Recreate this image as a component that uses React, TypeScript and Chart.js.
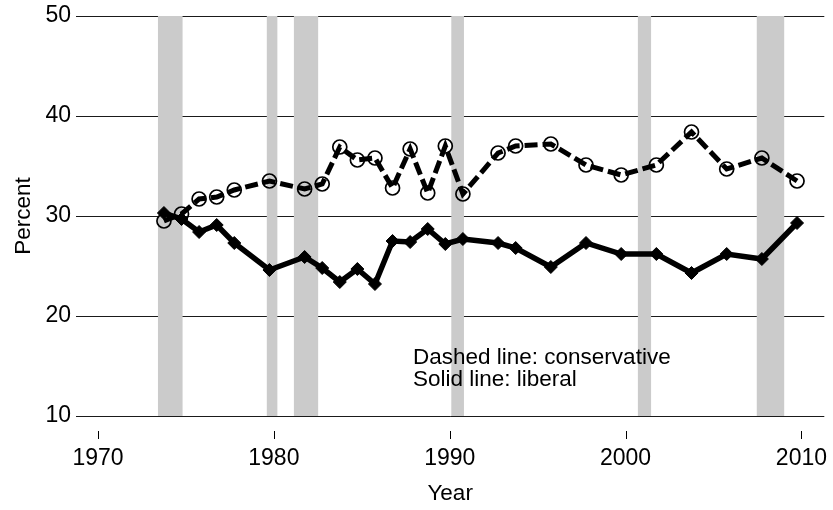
import React, { useEffect, useRef } from "react";
import { Chart, registerables } from "chart.js";

Chart.register(...registerables);

// Survey points as placed on the year axis
const yearPositions = [
  1973.75, 1974.75, 1975.75, 1976.75, 1977.75, 1979.75, 1981.75, 1982.75, 1983.75,
  1984.75, 1985.75, 1986.75, 1987.75, 1988.75, 1989.75, 1990.75, 1992.75, 1993.75,
  1995.75, 1997.75, 1999.75, 2001.75, 2003.75, 2005.75, 2007.75, 2009.75,
];
const conservative = [
  29.5, 30.2, 31.7, 31.9, 32.6, 33.5, 32.7, 33.2, 36.9, 35.6, 35.8, 32.8, 36.7,
  32.3, 37.0, 32.2, 36.3, 37.0, 37.2, 35.1, 34.1, 35.1, 38.4, 34.7, 35.8, 33.5,
];
const liberal = [
  30.3, 29.7, 28.4, 29.1, 27.3, 24.6, 25.9, 24.8, 23.4, 24.7, 23.2, 27.5, 27.4,
  28.7, 27.2, 27.7, 27.3, 26.8, 24.9, 27.3, 26.2, 26.2, 24.3, 26.2, 25.7, 29.3,
];
// Recession bands [start, end] in axis years
const recessionStarts = [1973.41, 1979.6, 1981.14, 1990.09, 2000.7, 2007.46];
const recessionEnds = [1974.81, 1980.2, 1982.52, 1990.81, 2001.45, 2009.02];

const xTicks = [1970, 1980, 1990, 2000, 2010];
const yTicks = [10, 20, 30, 40, 50];
const noteLines = ["Dashed line: conservative", "Solid line: liberal"];

const FONT = "'Liberation Sans', Arial, Helvetica, sans-serif";

const bandsPlugin = {
  id: "bands",
  beforeDatasetsDraw(chart: any) {
    const { ctx, chartArea, scales } = chart;
    ctx.save();
    ctx.fillStyle = "#cbcbcb";
    for (let i = 0; i < recessionStarts.length; i++) {
      const x0 = scales.x.getPixelForValue(recessionStarts[i]);
      const x1 = scales.x.getPixelForValue(recessionEnds[i]);
      ctx.fillRect(x0, chartArea.top, x1 - x0, chartArea.bottom - chartArea.top);
    }
    ctx.restore();
  },
  afterDraw(chart: any) {
    const { ctx, chartArea, scales } = chart;
    ctx.save();
    // x tick marks, detached from the plot region
    ctx.strokeStyle = "#000";
    ctx.lineWidth = 1;
    for (const t of xTicks) {
      const x = Math.round(scales.x.getPixelForValue(t)) + 0.5;
      ctx.beginPath();
      ctx.moveTo(x, chartArea.bottom + 15);
      ctx.lineTo(x, chartArea.bottom + 23);
      ctx.stroke();
    }
    // note text
    ctx.fillStyle = "#000";
    ctx.font = `22.5px ${FONT}`;
    ctx.textAlign = "left";
    ctx.textBaseline = "alphabetic";
    ctx.fillText(noteLines[0], 413, 363.5);
    ctx.fillText(noteLines[1], 413, 386);
    ctx.restore();
  },
};

export default function App() {
  const ref = useRef<HTMLCanvasElement>(null);

  useEffect(() => {
    document.body.style.margin = "0";
    const canvas = ref.current!;
    const chart = new Chart(canvas, {
      type: "line",
      data: {
        datasets: [
          {
            label: "liberal",
            data: yearPositions.map((x, i) => ({ x, y: liberal[i] })),
            borderColor: "#000",
            borderWidth: 5.5,
            pointStyle: "rectRot",
            pointRadius: 6.5,
            pointBackgroundColor: "#000",
            pointBorderColor: "#000",
            pointBorderWidth: 1,
            tension: 0,
            order: 0,
          },
          {
            label: "conservative",
            data: yearPositions.map((x, i) => ({ x, y: conservative[i] })),
            borderColor: "#000",
            borderWidth: 5,
            borderDash: [13, 5],
            borderCapStyle: "butt",
            pointStyle: "circle",
            pointRadius: 7,
            pointBackgroundColor: "rgba(0,0,0,0)",
            pointBorderColor: "#000",
            pointBorderWidth: 1.7,
            tension: 0,
            order: 1,
          },
        ],
      },
      options: {
        animation: false,
        responsive: false,
        maintainAspectRatio: false,
        layout: { padding: { top: 16, right: 8, left: 0, bottom: 0 } },
        plugins: {
          legend: { display: false },
          tooltip: { enabled: false },
        },
        scales: {
          x: {
            type: "linear",
            min: 1968.75,
            max: 2011.3,
            afterBuildTicks: (scale: any) => {
              scale.ticks = xTicks.map((v) => ({ value: v }));
            },
            afterFit: (scale: any) => {
              scale.height = 94;
              scale.paddingLeft = 0;
              scale.paddingRight = 0;
            },
            grid: { display: false, drawTicks: false },
            border: { display: false },
            ticks: {
              color: "#000",
              font: { family: FONT, size: 23 },
              padding: 29,
              maxRotation: 0,
              autoSkip: false,
              callback: (v: any) => String(v),
            },
            title: {
              display: true,
              text: "Year",
              color: "#000",
              font: { family: FONT, size: 22.5 },
              padding: { top: 0, bottom: 2.5 },
            },
          },
          y: {
            min: 10,
            max: 50,
            afterBuildTicks: (scale: any) => {
              scale.ticks = yTicks.map((v) => ({ value: v }));
            },
            afterFit: (scale: any) => {
              scale.width = 76;
              scale.paddingTop = 0;
              scale.paddingBottom = 0;
            },
            grid: { color: "#1a1a1a", lineWidth: 1, drawTicks: false },
            border: { display: false },
            ticks: {
              color: "#000",
              font: { family: FONT, size: 23 },
              padding: 5,
              callback: (v: any) => String(v),
            },
            title: {
              display: true,
              text: "Percent",
              color: "#000",
              font: { family: FONT, size: 22.5 },
              padding: { top: 10, bottom: 0 },
            },
          },
        },
      },
      plugins: [bandsPlugin],
    });
    return () => chart.destroy();
  }, []);

  return (
    <div style={{ width: 833, height: 510 }}>
      <canvas ref={ref} width={833} height={510} style={{ display: "block" }} />
    </div>
  );
}
